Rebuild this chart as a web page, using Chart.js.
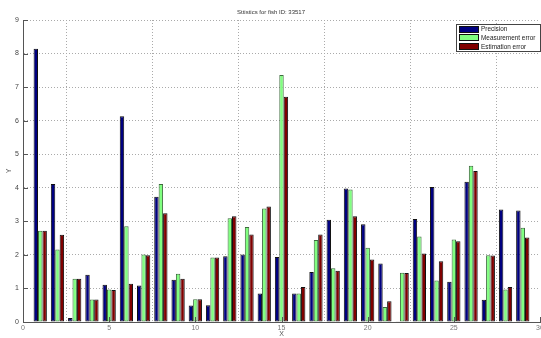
<!DOCTYPE html>
<html>
<head>
<meta charset="utf-8">
<title>Sttistics for fish ID: 33517</title>
<script src="https://cdn.jsdelivr.net/npm/chart.js@4/dist/chart.umd.min.js"></script>
<style>
  html, body { margin: 0; padding: 0; background: #ffffff; }
  #wrap { width: 541px; height: 338px; }
</style>
</head>
<body>
<div id="wrap"><canvas id="chart" width="541" height="338"></canvas></div>
<script>
// Fish index (x position of each bar group)
const categories = [1, 2, 3, 4, 5, 6, 7, 8, 9, 10, 11, 12, 13, 14, 15,
                    16, 17, 18, 19, 20, 21, 22, 23, 24, 25, 26, 27, 28, 29];

const precision = [8.14, 4.11, 0.12, 1.41, 1.11, 6.13, 1.09, 3.73, 1.26, 0.49,
                   0.50, 1.96, 2.01, 0.85, 1.94, 0.85, 1.49, 3.05, 3.98, 2.91,
                   1.74, 0.02, 3.07, 4.02, 1.20, 4.18, 0.66, 3.35, 3.32];

const measurementError = [2.72, 2.16, 1.29, 0.67, 0.97, 2.85, 2.01, 4.11, 1.44, 0.68,
                          1.92, 3.09, 2.83, 3.38, 7.36, 0.85, 2.44, 1.60, 3.95, 2.21,
                          0.45, 1.47, 2.55, 1.24, 2.46, 4.66, 1.99, 0.97, 2.81];

const estimationError = [2.72, 2.60, 1.29, 0.67, 0.95, 1.14, 1.99, 3.24, 1.29, 0.68,
                         1.92, 3.15, 2.61, 3.44, 6.71, 1.04, 2.61, 1.53, 3.15, 1.86,
                         0.62, 1.46, 2.04, 1.81, 2.41, 4.50, 1.98, 1.04, 2.52];

const seriesNames = ['Precision', 'Measurement error', 'Estimation error'];
const seriesColors = ['#000080', '#80ff80', '#800000'];

const xTicks = [0, 5, 10, 15, 20, 25, 30];
const yTicks = [0, 1, 2, 3, 4, 5, 6, 7, 8, 9];

const titleText = 'Sttistics for fish ID: 33517';
const xLabel = 'X';
const yLabel = 'Y';

const FONT = '"Liberation Sans", Arial, sans-serif';

function toPoints(values) {
  return categories.map((c, i) => ({ x: c, y: values[i] }));
}

const datasets = [precision, measurementError, estimationError].map((vals, i) => ({
  label: seriesNames[i],
  data: toPoints(vals),
  backgroundColor: seriesColors[i],
  borderColor: i === 1 ? '#3d6b3d' : '#111111',
  borderWidth: 1,
  borderSkipped: false,
  categoryPercentage: 0.77,
  barPercentage: 1.0
}));

// Inward tick marks, title, axis labels and boxed legend (MATLAB figure look)
const figureDecor = {
  id: 'figureDecor',
  afterDatasetsDraw(chart) {
    const { ctx, chartArea: a, scales } = chart;
    ctx.save();
    ctx.strokeStyle = '#555555';
    ctx.lineWidth = 1;
    ctx.beginPath();
    yTicks.forEach(v => {
      const y = Math.round(scales.y.getPixelForValue(v)) + 0.5;
      ctx.moveTo(a.left, y);
      ctx.lineTo(a.left + 5, y);
    });
    xTicks.forEach(v => {
      const x = Math.round(scales.x.getPixelForValue(v)) + 0.5;
      ctx.moveTo(x, a.bottom);
      ctx.lineTo(x, a.bottom - 5);
    });
    ctx.stroke();

    // title
    ctx.fillStyle = '#333333';
    ctx.font = '6px ' + FONT;
    ctx.textAlign = 'center';
    ctx.textBaseline = 'middle';
    ctx.fillText(titleText, 271, 12);

    // axis labels
    ctx.fillStyle = '#555555';
    ctx.font = '7px ' + FONT;
    ctx.fillText(xLabel, (a.left + a.right) / 2, 334);
    ctx.save();
    ctx.translate(9, (a.top + a.bottom) / 2);
    ctx.rotate(-Math.PI / 2);
    ctx.fillText(yLabel, 0, 0);
    ctx.restore();

    // legend box
    const lx = 456, ly = 24, lw = 85, lh = 28;
    ctx.fillStyle = '#ffffff';
    ctx.fillRect(lx, ly, lw, lh);
    ctx.strokeStyle = '#444444';
    ctx.strokeRect(lx + 0.5, ly + 0.5, lw - 1, lh - 1);
    chart.data.datasets.forEach((ds, i) => {
      const cy = ly + 5 + i * 8.7;
      ctx.fillStyle = ds.backgroundColor;
      ctx.fillRect(lx + 3, Math.round(cy - 3.5), 20, 7);
      ctx.strokeStyle = '#111111';
      ctx.strokeRect(lx + 3.5, Math.round(cy - 3.5) + 0.5, 19, 6);
      ctx.fillStyle = '#222222';
      ctx.textAlign = 'left';
      ctx.textBaseline = 'middle';
      ctx.font = '6.4px ' + FONT;
      ctx.fillText(ds.label, lx + 25, cy + 0.5);
    });
    ctx.restore();
  }
};

new Chart(document.getElementById('chart'), {
  type: 'bar',
  data: { datasets },
  options: {
    responsive: false,
    animation: false,
    devicePixelRatio: 1,
    layout: { padding: { top: 20, right: 1, left: 0, bottom: 0 }, autoPadding: false },
    plugins: {
      legend: { display: false },
      title: { display: false },
      tooltip: { enabled: false }
    },
    scales: {
      x: {
        type: 'linear',
        min: 0,
        max: 30,
        offset: false,
        afterFit(scale) { scale.height = 16; scale.paddingLeft = 0; scale.paddingRight = 0; },
        afterBuildTicks(scale) { scale.ticks = xTicks.map(v => ({ value: v })); },
        grid: { color: '#aaaaaa', lineWidth: 1, drawTicks: false },
        border: { display: true, color: '#555555', width: 1, dash: [1, 2] },
        ticks: { color: '#777777', font: { family: FONT, size: 7 }, padding: 2, maxRotation: 0, autoSkip: false }
      },
      y: {
        min: 0,
        max: 9,
        afterFit(scale) { scale.width = 23; scale.paddingTop = 0; scale.paddingBottom = 0; },
        afterBuildTicks(scale) { scale.ticks = yTicks.map(v => ({ value: v })); },
        grid: { color: '#aaaaaa', lineWidth: 1, drawTicks: false },
        border: { display: true, color: '#555555', width: 1, dash: [1, 2] },
        ticks: { color: '#444444', font: { family: FONT, size: 7 }, padding: 4 }
      }
    }
  },
  plugins: [figureDecor]
});
</script>
</body>
</html>
